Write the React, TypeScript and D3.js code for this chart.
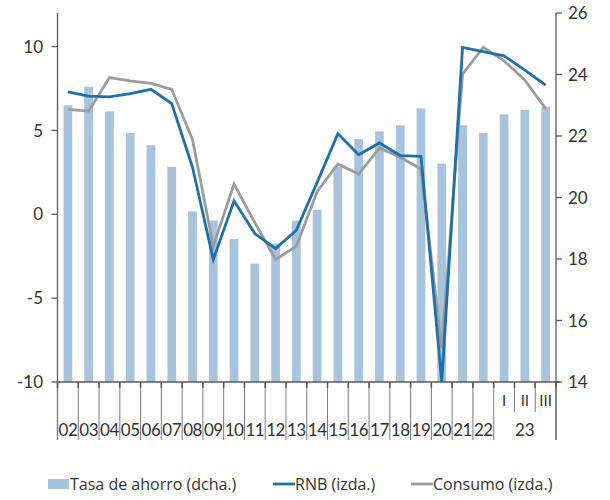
import React from "react";
import * as d3 from "d3";

const categories = ["02","03","04","05","06","07","08","09","10","11","12","13","14","15","16","17","18","19","20","21","22","I","II","III"];
const yearLabels = ["02","03","04","05","06","07","08","09","10","11","12","13","14","15","16","17","18","19","20","21","22"];
const quarterLabels = ["I","II","III"];
const quarterYear = "23";
const tasaAhorro = [23.0, 23.6, 22.8, 22.1, 21.7, 21.0, 19.55, 19.25, 18.65, 17.85, 18.5, 19.25, 19.6, 21.0, 21.9, 22.15, 22.35, 22.9, 21.1, 22.35, 22.1, 22.7, 22.85, 22.95];
const rnb = [7.3, 7.05, 7.0, 7.2, 7.45, 6.6, 2.8, -2.7, 0.8, -1.15, -2.05, -0.95, 1.9, 4.8, 3.55, 4.25, 3.5, 3.45, -10.0, 9.95, 9.7, 9.45, 8.6, 7.7];
const consumo = [6.25, 6.15, 8.15, 7.95, 7.8, 7.45, 4.45, -1.9, 1.8, -0.5, -2.7, -1.9, 1.35, 3.0, 2.4, 3.95, 3.4, 2.7, -8.0, 8.35, 9.95, 9.15, 8.0, 6.3];
const leftTicks = [-10, -5, 0, 5, 10];
const rightTicks = [14, 16, 18, 20, 22, 24, 26];
const legendLabels = ["Tasa de ahorro (dcha.)", "RNB (izda.)", "Consumo (izda.)"];

const W = 610, H = 500;
const left = 57.5, right = 556, top = 13, bottom = 382;
const BAR = "#a8c3dc", BLUE = "#1f6fa8", GRAY = "#9c9c9c", AXIS = "#595959", TXT = "#333333";
const axisFont = "Lato, 'Open Sans', sans-serif";
const legendFont = "'Open Sans', 'Noto Sans', sans-serif";

export default function App() {
  const x = d3.scaleBand<string>().domain(categories).range([left, right]).paddingInner(0).paddingOuter(0);
  const yL = d3.scaleLinear().domain([-10, 12]).range([bottom, top]);
  const yR = d3.scaleLinear().domain([14, 26]).range([bottom, top]);
  const bw = x.bandwidth();
  const barW = bw * 0.42;
  const cx = (i: number) => (x(categories[i]) as number) + bw / 2;
  const line = d3.line<number>().x((_, i) => cx(i)).y((d) => yL(d));

  const boundaries = d3.range(categories.length + 1).map((i) => left + i * bw);
  const sepBottom = 440;
  const qStart = yearLabels.length;

  return (
    <svg width={W} height={H} style={{ position: "absolute", left: 0, top: 0, background: "#fff" }}>
      {/* bars */}
      {tasaAhorro.map((v, i) => (
        <rect key={"b" + i} x={cx(i) - barW / 2} y={yR(v)} width={barW} height={yR(14) - yR(v)} fill={BAR} />
      ))}
      {/* lines */}
      <path d={line(consumo) || ""} fill="none" stroke={GRAY} strokeWidth={2.8} strokeLinejoin="miter" />
      <path d={line(rnb) || ""} fill="none" stroke={BLUE} strokeWidth={2.8} strokeLinejoin="miter" />

      {/* left axis */}
      <line x1={left} x2={left} y1={top} y2={sepBottom} stroke={AXIS} strokeWidth={1.3} />
      {leftTicks.map((t) => (
        <g key={"lt" + t}>
          <line x1={left - 6} x2={left} y1={yL(t)} y2={yL(t)} stroke={AXIS} strokeWidth={1.3} />
          <text x={43} y={yL(t)} dy="0.36em" textAnchor="end" fontSize={17} fontFamily={axisFont} fill={TXT}>{t}</text>
        </g>
      ))}
      {/* right axis */}
      <line x1={right} x2={right} y1={top} y2={sepBottom} stroke={AXIS} strokeWidth={1.3} />
      {rightTicks.map((t) => (
        <g key={"rt" + t}>
          <line x1={right} x2={right + 6} y1={yR(t)} y2={yR(t)} stroke={AXIS} strokeWidth={1.3} />
          <text x={568} y={yR(t)} dy="0.36em" textAnchor="start" fontSize={17} fontFamily={axisFont} fill={TXT}>{t}</text>
        </g>
      ))}
      {/* x axis */}
      <line x1={left} x2={right + 4} y1={bottom} y2={bottom} stroke={AXIS} strokeWidth={1.3} />
      {boundaries.map((bx, i) => {
        const inQuarter = i > qStart && i < categories.length;
        return (
          <g key={"sep" + i}>
            <line x1={bx} x2={bx} y1={bottom} y2={inQuarter ? 412 : sepBottom} stroke="#7a7a7a" strokeWidth={1} />
            <line x1={bx} x2={bx} y1={bottom} y2={bottom + 6} stroke={AXIS} strokeWidth={1.5} />
          </g>
        );
      })}
      {yearLabels.map((lab, i) => (
        <text key={"yl" + i} x={cx(i)} y={430} dy="0.36em" textAnchor="middle" fontSize={17} fontFamily={axisFont} fill={TXT} letterSpacing={-0.5}>{lab}</text>
      ))}
      {quarterLabels.map((lab, i) => (
        <text key={"ql" + i} x={cx(qStart + i)} y={401} dy="0.36em" textAnchor="middle" fontSize={15} fontFamily={axisFont} fill={TXT}>{lab}</text>
      ))}
      <text x={(cx(qStart) + cx(categories.length - 1)) / 2} y={430} dy="0.36em" textAnchor="middle" fontSize={17} fontFamily={axisFont} fill={TXT}>{quarterYear}</text>

      {/* legend */}
      <rect x={48} y={479} width={21} height={10} fill={BAR} />
      <text x={70} y={484} dy="0.36em" fontSize={16} fontFamily={legendFont} fill={TXT}>{legendLabels[0]}</text>
      <line x1={273} x2={295} y1={484} y2={484} stroke={BLUE} strokeWidth={2.8} />
      <text x={295} y={484} dy="0.36em" fontSize={16} fontFamily={legendFont} fill={TXT}>{legendLabels[1]}</text>
      <line x1={411} x2={433} y1={484} y2={484} stroke={GRAY} strokeWidth={2.8} />
      <text x={433} y={484} dy="0.36em" fontSize={16} fontFamily={legendFont} fill={TXT}>{legendLabels[2]}</text>
    </svg>
  );
}
